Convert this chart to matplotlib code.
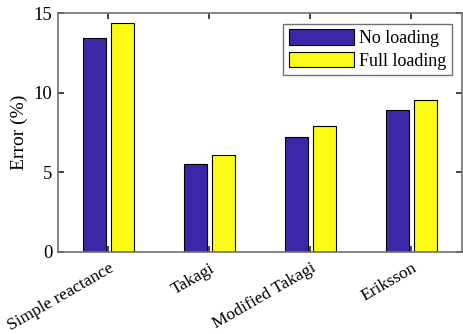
import matplotlib.pyplot as plt
import numpy as np

plt.rc('font', family='Liberation Serif')

methods = ['Simple reactance', 'Takagi', 'Modified Takagi', 'Eriksson']
no_loading = [13.45, 5.5, 7.2, 8.9]
full_loading = [14.4, 6.1, 7.9, 9.55]

x = np.arange(1, len(methods) + 1)
w = 0.228
off = 0.143

fig = plt.figure(figsize=(4.64, 3.34), dpi=100)
ax = fig.add_axes([58/464, 1 - 252/334, 404/464, 239/334])

ax.bar(x - off, no_loading, w, color='#3E26A8', edgecolor='black', linewidth=0.8, label='No loading')
ax.bar(x + off, full_loading, w, color='#F9FB15', edgecolor='black', linewidth=0.8, label='Full loading')

ax.set_xlim(0.5, 4.5)
ax.set_ylim(0, 15)
ax.set_yticks([0, 5, 10, 15])
ax.set_xticks(x)
ax.set_xticklabels(methods, rotation=30, ha='right', va='top', rotation_mode='anchor')
ax.set_ylabel('Error (%)', fontsize=14)
ax.tick_params(labelsize=13.5, direction='in', top=True, right=True, length=4,
               color='#262626', width=1.2)
ax.tick_params(axis='x', labelsize=12.6, pad=6)
ax.tick_params(axis='y', pad=4)
for s in ax.spines.values():
    s.set_color('#707070')
    s.set_linewidth(1.2)

leg = ax.legend(loc='upper right', bbox_to_anchor=(394/404, 1 - 11/239), fontsize=13,
                fancybox=False, edgecolor='#707070', framealpha=1, borderpad=0.3,
                handlelength=3.6, handleheight=0.95, handletextpad=0.3, labelspacing=0.25,
                borderaxespad=0)
leg.get_frame().set_linewidth(1.0)

fig.savefig('out.png', dpi=100)
